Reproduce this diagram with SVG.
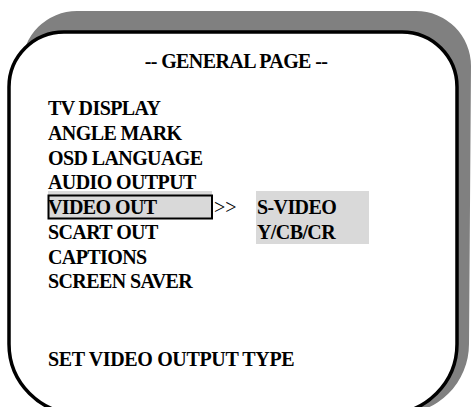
<svg xmlns="http://www.w3.org/2000/svg" width="472" height="407" viewBox="0 0 472 407">
<style>
.t{font-family:"Liberation Serif","Times New Roman",serif;font-weight:bold;font-size:20px;letter-spacing:-0.6px;fill:#000}
.r{font-family:"Liberation Serif","Times New Roman",serif;font-size:20px;fill:#000}
.hl{fill:#d9d9d9}
</style>
<rect width="472" height="407" fill="#fff"/>
<g id="shadow">
<path d="M 77 11 H 416 A 55 55 0 0 1 471 66 L 469 344 A 70 70 0 0 1 399 414 H 92 A 70 70 0 0 1 22 344 V 66 A 55 55 0 0 1 77 11 Z" fill="#808080"/>
</g>
<g id="panel">
<path d="M 64 32 H 402 A 55 55 0 0 1 457 87 V 344 A 70 70 0 0 1 387 414 H 79 A 70 70 0 0 1 9 344 V 87 A 55 55 0 0 1 64 32 Z" fill="#fff" stroke="#000" stroke-width="3.5"/>
</g>
<g id="title">
<text class="t" x="236" y="68" text-anchor="middle">-- GENERAL PAGE --</text>
</g>
<g id="menu">
<rect class="hl" x="48" y="191" width="164" height="27"/>
<rect x="48.5" y="195.5" width="163.5" height="23" fill="none" stroke="#000" stroke-width="2"/>
<text class="t" x="48" y="115">TV DISPLAY</text>
<text class="t" x="48" y="140">ANGLE MARK</text>
<text class="t" x="48" y="165">OSD LANGUAGE</text>
<text class="t" x="48" y="189">AUDIO OUTPUT</text>
<text class="t" x="48" y="214">VIDEO  OUT</text>
<text class="t" x="48" y="239">SCART OUT</text>
<text class="t" x="48" y="264">CAPTIONS</text>
<text class="t" x="48" y="288">SCREEN SAVER</text>
</g>
<g id="arrow">
<text class="r" x="214" y="214">&gt;&gt;</text>
</g>
<g id="submenu">
<rect class="hl" x="256" y="191" width="113" height="53"/>
<text class="t" x="257" y="214">S-VIDEO</text>
<text class="t" x="257" y="239">Y/CB/CR</text>
</g>
<g id="status">
<text class="t" x="48" y="366" textLength="246" lengthAdjust="spacing">SET VIDEO OUTPUT TYPE</text>
</g>
</svg>
